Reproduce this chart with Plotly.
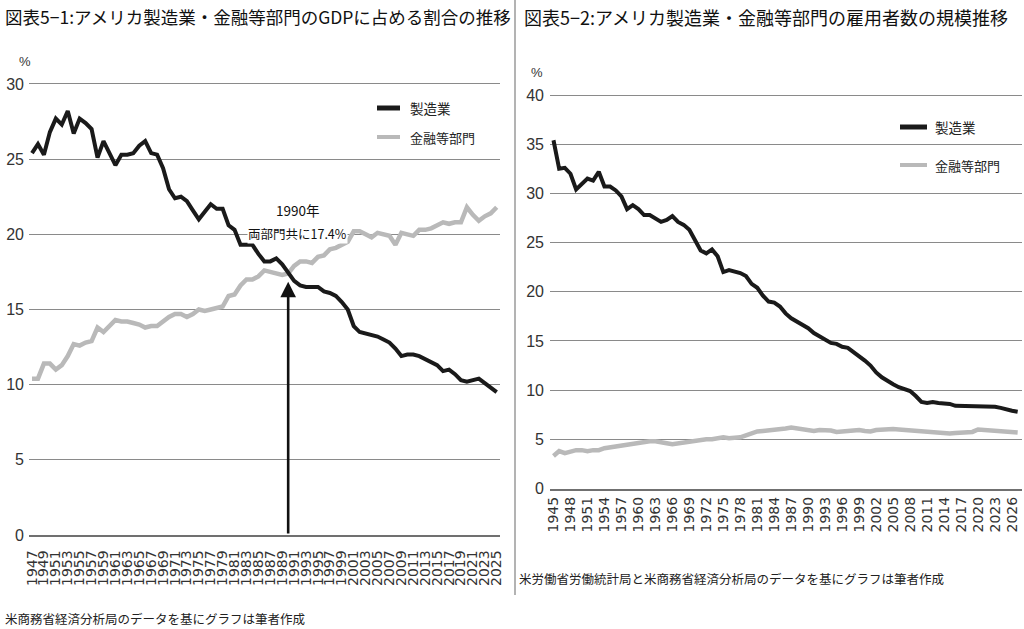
import plotly.graph_objects as go

# 図表5-1: GDPに占める割合 (%)
years_gdp = list(range(1947, 2026))
mfg_gdp = [25.4, 26.0, 25.3, 26.8, 27.7, 27.3, 28.2, 26.7, 27.7, 27.4,
           27.0, 25.1, 26.2, 25.4, 24.6, 25.3, 25.3, 25.4, 25.9, 26.2,
           25.4, 25.3, 24.4, 23.0, 22.4, 22.5, 22.2, 21.6, 21.0, 21.5,
           22.0, 21.7, 21.7, 20.6, 20.3, 19.3, 19.3, 19.3, 18.7, 18.2,
           18.2, 18.4, 18.0, 17.4, 16.9, 16.6, 16.5, 16.5, 16.5, 16.2,
           16.1, 15.9, 15.5, 15.0, 13.9, 13.5, 13.4, 13.3, 13.2, 13.0,
           12.8, 12.4, 11.9, 12.0, 12.0, 11.9, 11.7, 11.5, 11.3, 10.9,
           11.0, 10.7, 10.3, 10.2, 10.3, 10.4, 10.1, 9.8, 9.5]
fin_gdp = [10.4, 10.4, 11.4, 11.4, 11.0, 11.3, 11.9, 12.7, 12.6, 12.8,
           12.9, 13.8, 13.5, 13.9, 14.3, 14.2, 14.2, 14.1, 14.0, 13.8,
           13.9, 13.9, 14.2, 14.5, 14.7, 14.7, 14.5, 14.7, 15.0, 14.9,
           15.0, 15.1, 15.2, 15.9, 16.0, 16.6, 17.0, 17.0, 17.2, 17.6,
           17.5, 17.4, 17.3, 17.4, 17.9, 18.2, 18.2, 18.1, 18.5, 18.6,
           19.0, 19.1, 19.3, 19.5, 20.2, 20.2, 20.0, 19.8, 20.1, 20.0,
           19.9, 19.3, 20.1, 20.0, 19.9, 20.3, 20.3, 20.4, 20.6, 20.8,
           20.7, 20.8, 20.8, 21.8, 21.3, 20.9, 21.2, 21.4, 21.8]
ticks_gdp = list(range(1947, 2026, 2))

# 図表5-2: 雇用者数の規模 (%)
years_emp = list(range(1945, 2028))
mfg_emp = [35.4, 32.5, 32.6, 32.0, 30.4, 30.9, 31.5, 31.3, 32.2, 30.7,
           30.7, 30.3, 29.7, 28.4, 28.8, 28.4, 27.8, 27.8, 27.5, 27.1,
           27.3, 27.7, 27.1, 26.8, 26.3, 25.3, 24.2, 23.9, 24.3, 23.6,
           22.0, 22.2, 22.1, 21.9, 21.6, 20.8, 20.4, 19.6, 19.0, 18.9,
           18.5, 17.8, 17.3, 17.0, 16.6, 16.3, 15.8, 15.5, 15.1, 14.8,
           14.7, 14.4, 14.3, 13.9, 13.4, 13.0, 12.5, 11.8, 11.3, 10.9,
           10.6, 10.3, 10.1, 9.9, 9.4, 8.8, 8.7, 8.8, 8.7, 8.7,
           8.6, 8.4, 8.4, 8.4, 8.4, 8.4, 8.3, 8.3, 8.3, 8.2,
           8.0, 7.9, 7.8]
fin_emp = [3.3, 3.8, 3.6, 3.8, 3.9, 3.9, 3.8, 3.9, 3.9, 4.1,
           4.2, 4.2, 4.3, 4.5, 4.6, 4.7, 4.8, 4.8, 4.8, 4.75,
           4.6, 4.5, 4.6, 4.7, 4.8, 4.9, 5.0, 5.0, 5.0, 5.1,
           5.2, 5.1, 5.1, 5.2, 5.4, 5.6, 5.8, 5.85, 5.9, 5.95,
           5.95, 6.1, 6.2, 6.1, 6.0, 5.9, 5.85, 5.95, 5.95, 5.9,
           5.75, 5.75, 5.85, 5.9, 5.95, 5.85, 5.8, 5.95, 6.0, 6.1,
           6.05, 6.0, 5.95, 5.9, 5.85, 5.8, 5.75, 5.7, 5.7, 5.65,
           5.6, 5.65, 5.7, 5.7, 5.75, 6.0, 5.95, 5.9, 5.8, 5.75,
           5.7, 5.7, 5.7]
ticks_emp = list(range(1945, 2027, 3))

names = ["製造業", "金融等部門"]
BLACK = "#1a1a1a"
GRAY = "#b9b9b9"
GRID = "#8a8a8a"
JP = "Noto Sans CJK JP"
NUM = "Liberation Sans, Arial, sans-serif"

W, H = 1024, 629


def px(x):
    return x / W


def py(y):
    return 1 - y / H


fig = go.Figure()
fig.add_trace(go.Scatter(x=years_gdp, y=fin_gdp, mode="lines", name=names[1],
                         line=dict(color=GRAY, width=4.5), xaxis="x", yaxis="y"))
fig.add_trace(go.Scatter(x=years_gdp, y=mfg_gdp, mode="lines", name=names[0],
                         line=dict(color=BLACK, width=4), xaxis="x", yaxis="y"))
fig.add_trace(go.Scatter(x=years_emp, y=fin_emp, mode="lines", name=names[1],
                         line=dict(color=GRAY, width=4.5), xaxis="x2", yaxis="y2"))
fig.add_trace(go.Scatter(x=years_emp, y=mfg_emp, mode="lines", name=names[0],
                         line=dict(color=BLACK, width=4), xaxis="x2", yaxis="y2"))

xcommon = dict(showgrid=False, zeroline=False, showline=True, linecolor="#707070",
               linewidth=1.5, ticks="", tickangle=-90, automargin=False,
               tickfont=dict(family="DejaVu Sans", size=14, color="#333"))
ycommon = dict(showgrid=True, gridcolor=GRID, gridwidth=1.3, zeroline=False, automargin=False,
               showline=False, ticks="", tickfont=dict(family=NUM, size=16, color="#333"))

# left panel: 1947 at x=32px, 2025 at x=496.7px; 0 at y=535px, 30 at y=84px
step_l = (496.7 - 32) / 78
fig.update_layout(
    xaxis=dict(xcommon, domain=[px(29), px(500)],
               range=[1947 - 3 / step_l, 1947 + (500 - 32) / step_l],
               tickvals=ticks_gdp, ticktext=[str(t) for t in ticks_gdp],
               anchor="y", ticklabelstandoff=8),
    yaxis=dict(ycommon, domain=[py(535), py(84 - 451 / 30)], range=[0, 31],
               tickvals=list(range(0, 31, 5)), anchor="x", ticklabelstandoff=4),
)

# right panel: 1945 at x=553.5px, 2026 at x=1012px; 0 at y=488.5px, 40 at y=95px
step_r = (1012 - 553.5) / 81
fig.update_layout(
    xaxis2=dict(xcommon, domain=[px(550), px(1022)],
                range=[1945 - 3.5 / step_r, 1945 + (1022 - 553.5) / step_r],
                tickvals=ticks_emp, ticktext=[str(t) for t in ticks_emp],
                anchor="y2", ticklabelstandoff=1),
    yaxis2=dict(ycommon, domain=[py(488.5), py(95 - 393.5 / 40)], range=[0, 41],
                tickvals=list(range(0, 41, 5)), anchor="x2", ticklabelstandoff=5),
)

annotations = [
    dict(text="図表5−1:アメリカ製造業・金融等部門のGDPに占める割合の推移", x=px(3), y=py(17),
         xanchor="left", font=dict(family=JP, size=17.5, color="#111")),
    dict(text="図表5−2:アメリカ製造業・金融等部門の雇用者数の規模推移", x=px(522), y=py(17),
         xanchor="left", font=dict(family=JP, size=18, color="#111")),
    dict(text="%", x=px(17), y=py(62), font=dict(family=NUM, size=13, color="#333")),
    dict(text="%", x=px(537), y=py(72), font=dict(family=NUM, size=13, color="#333")),
    dict(text="米商務省経済分析局のデータを基にグラフは筆者作成", x=px(3), y=py(618),
         xanchor="left", font=dict(family=JP, size=12.5, color="#222")),
    dict(text="米労働省労働統計局と米商務省経済分析局のデータを基にグラフは筆者作成", x=px(517), y=py(578),
         xanchor="left", font=dict(family=JP, size=12.5, color="#222")),
    # legends
    dict(text=names[0], x=px(408), y=py(108), xanchor="left", font=dict(family=JP, size=13.5, color="#222")),
    dict(text=names[1], x=px(408), y=py(137), xanchor="left", font=dict(family=JP, size=13, color="#222")),
    dict(text=names[0], x=px(933), y=py(127), xanchor="left", font=dict(family=JP, size=13.5, color="#222")),
    dict(text=names[1], x=px(933), y=py(165), xanchor="left", font=dict(family=JP, size=13, color="#222")),
]
for a in annotations:
    a.update(xref="paper", yref="paper", showarrow=False, yanchor="middle")

# 1990 crossing note
cross_year, cross_val = 1990, 17.4
annotations += [
    dict(text="1990年", xref="x", yref="paper", x=cross_year + 1.6, y=py(210), showarrow=False,
         font=dict(family=JP, size=13.5, color="#111")),
    dict(text="両部門共に17.4%", xref="x", yref="paper", x=cross_year + 1.6, y=py(233), showarrow=False,
         bgcolor="white", borderpad=0, font=dict(family=JP, size=12.5, color="#111")),
    dict(text="", xref="x", yref="y", x=cross_year, y=cross_val - 0.55, axref="x", ayref="y",
         ax=cross_year, ay=0, showarrow=True, arrowhead=2, arrowsize=1.2, arrowwidth=2.6,
         arrowcolor="#111"),
]

shapes = [
    dict(type="line", xref="paper", yref="paper", x0=px(515), x1=px(515), y0=py(0), y1=py(595),
         line=dict(color="#9a9a9a", width=1.5)),
    dict(type="line", xref="paper", yref="paper", x0=px(377), x1=px(400), y0=py(108), y1=py(108),
         line=dict(color=BLACK, width=5)),
    dict(type="line", xref="paper", yref="paper", x0=px(377), x1=px(400), y0=py(137), y1=py(137),
         line=dict(color=GRAY, width=4)),
    dict(type="line", xref="paper", yref="paper", x0=px(900), x1=px(927), y0=py(127), y1=py(127),
         line=dict(color=BLACK, width=5)),
    dict(type="line", xref="paper", yref="paper", x0=px(900), x1=px(927), y0=py(165), y1=py(165),
         line=dict(color=GRAY, width=4)),
]

fig.update_layout(
    width=W, height=H, margin=dict(l=0, r=0, t=0, b=0),
    paper_bgcolor="white", plot_bgcolor="white", showlegend=False,
    annotations=annotations, shapes=shapes,
)

# drop the page's default body margin so the figure sits at the window's corner
fig.write_html("out.html", config={"displayModeBar": False},
               post_script="document.body.style.margin='0';")
